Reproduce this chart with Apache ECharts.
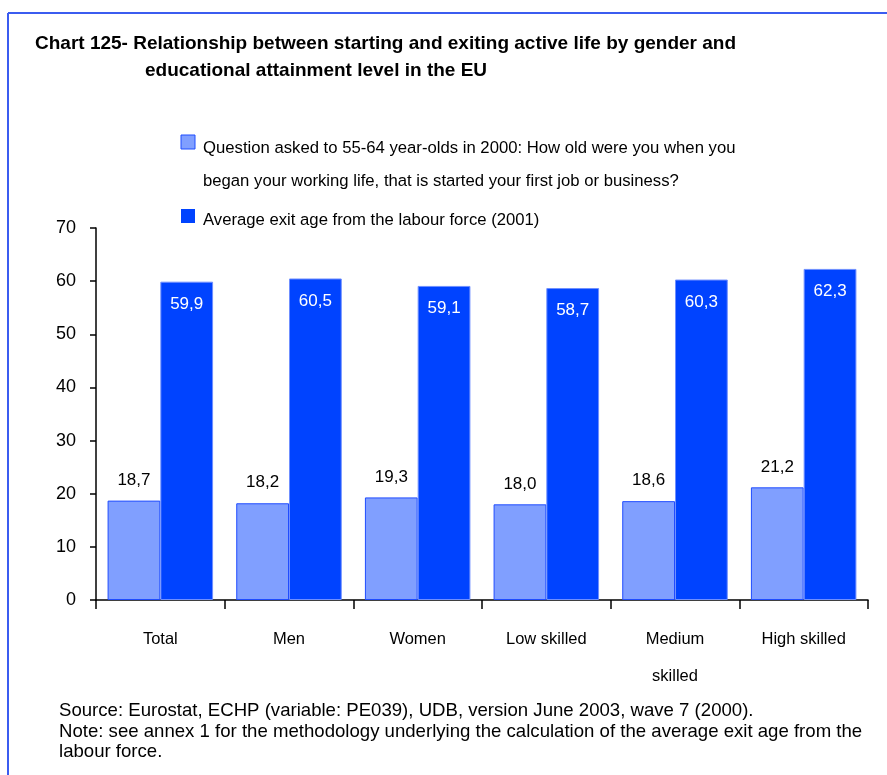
<!DOCTYPE html>
<html>
<head>
<meta charset="utf-8">
<script src="https://cdn.jsdelivr.net/npm/echarts@6/dist/echarts.min.js"></script>
<style>
  html, body { margin: 0; padding: 0; background: #fff; }
  #chart { width: 887px; height: 775px; }
</style>
</head>
<body>
<div id="chart"></div>
<script>
const categories = ['Total', 'Men', 'Women', 'Low skilled', 'Medium\nskilled', 'High skilled'];
const startAge = [18.7, 18.2, 19.3, 18.0, 18.6, 21.2];
const exitAge = [59.9, 60.5, 59.1, 58.7, 60.3, 62.3];
const yTicks = [0, 10, 20, 30, 40, 50, 60, 70];

const startName = 'Question asked to 55-64 year-olds in 2000: How old were you when you\nbegan your working life, that is started your first job or business?';
const exitName = 'Average exit age from the labour force (2001)';

const lightBlue = '#809fff';
const darkBlue = '#0043ff';

const sans = '"Liberation Sans", Arial, sans-serif';

const fmt = p => p.value.toFixed(1).replace('.', ',');

const myChart = echarts.init(document.getElementById('chart'));

const option = {
    backgroundColor: '#fff',
    animation: false,
    graphic: [
        // frame lines (top and left)
        { type: 'line', shape: { x1: 8, y1: 13, x2: 887, y2: 13 }, style: { stroke: '#3b5cf0', lineWidth: 2 } },
        { type: 'line', shape: { x1: 8, y1: 13, x2: 8, y2: 775 }, style: { stroke: '#3b5cf0', lineWidth: 2 } },
        // title
        { type: 'text', left: 35, top: 34, style: { text: 'Chart 125- Relationship between starting and exiting active life by gender and', font: 'bold 19px ' + sans, fill: '#000' } },
        { type: 'text', left: 145, top: 61, style: { text: 'educational attainment level in the EU', font: 'bold 19px ' + sans, fill: '#000' } },
        // legend
        { type: 'rect', shape: { x: 181, y: 135, width: 14, height: 14 }, style: { fill: lightBlue, stroke: '#1f4cff', lineWidth: 1 } },
        { type: 'text', left: 203, top: 132, style: { text: startName, font: '16.7px ' + sans, lineHeight: 33, fill: '#000' } },
        { type: 'rect', shape: { x: 181, y: 209, width: 14, height: 14 }, style: { fill: darkBlue } },
        { type: 'text', left: 203, top: 212, style: { text: exitName, font: '16.7px ' + sans, fill: '#000' } },
        // source and note
        { type: 'text', left: 59, top: 701, style: {
            text: 'Source: Eurostat, ECHP (variable: PE039), UDB, version June 2003, wave 7 (2000).\nNote: see annex 1 for the methodology underlying the calculation of the average exit age from the\nlabour force.',
            font: '18.6px ' + sans, lineHeight: 20.5, fill: '#000' } }
    ],
    grid: { left: 96, right: 19, top: 228, bottom: 175 },
    xAxis: {
        type: 'category',
        data: categories,
        axisLine: { lineStyle: { color: '#000', width: 1.5 } },
        axisTick: { show: true, length: 9, lineStyle: { color: '#000', width: 1.5 } },
        axisLabel: { fontFamily: sans, fontSize: 16.5, color: '#000', margin: 21, lineHeight: 37 }
    },
    yAxis: {
        type: 'value',
        min: yTicks[0],
        max: yTicks[yTicks.length - 1],
        interval: 10,
        splitLine: { show: false },
        axisLine: { show: true, lineStyle: { color: '#000', width: 1.5 } },
        axisTick: { show: true, length: 6, lineStyle: { color: '#000', width: 1.5 } },
        axisLabel: { fontFamily: sans, fontSize: 18, color: '#000', margin: 20 }
    },
    series: [
        {
            name: startName,
            type: 'bar',
            data: startAge,
            barGap: '0%',
            barCategoryGap: '18%',
            itemStyle: { color: lightBlue, borderColor: '#1f4cff', borderWidth: 1 },
            label: { show: true, position: 'top', distance: 12, formatter: fmt, fontFamily: sans, fontSize: 17, color: '#000' }
        },
        {
            name: exitName,
            type: 'bar',
            data: exitAge,
            itemStyle: { color: darkBlue, borderColor: '#6f8fff', borderWidth: 1 },
            label: { show: true, position: 'insideTop', distance: 14, formatter: fmt, fontFamily: sans, fontSize: 17, color: '#fff' }
        }
    ]
};

myChart.setOption(option);
</script>
</body>
</html>
